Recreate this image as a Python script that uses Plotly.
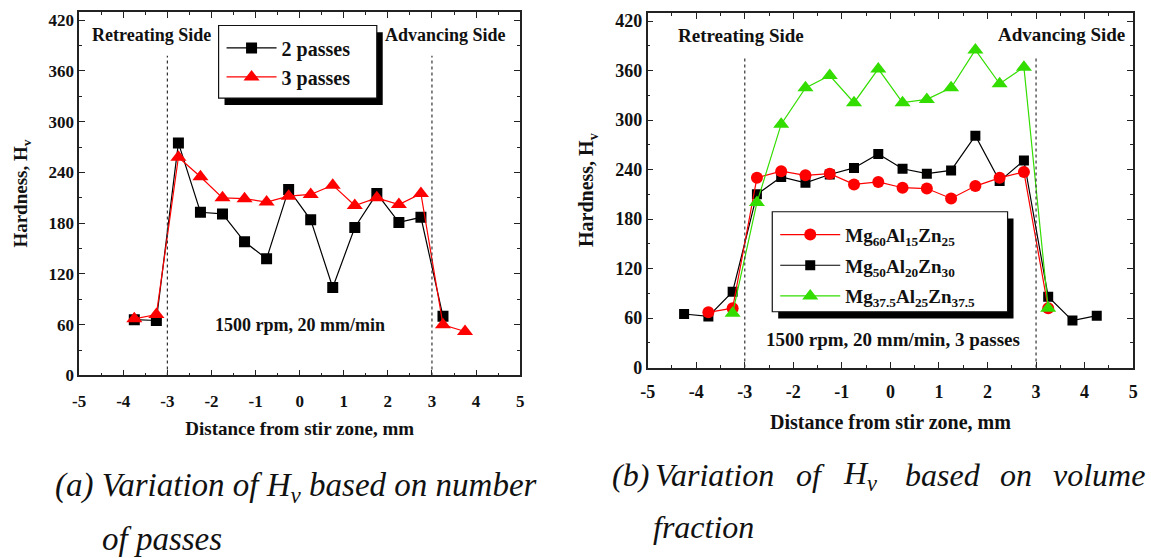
import plotly.graph_objects as go

# ---------------- data ----------------
# (a) number of passes
x_2passes = [-3.75, -3.25, -2.75, -2.25, -1.75, -1.25, -0.75, -0.25, 0.25, 0.75, 1.25, 1.75, 2.25, 2.75, 3.25]
hv_2passes = [66, 65, 275, 193, 191, 158, 138, 220, 184, 104, 175, 215, 181, 187, 70]
x_3passes = [-3.75, -3.25, -2.75, -2.25, -1.75, -1.25, -0.75, -0.25, 0.25, 0.75, 1.25, 1.75, 2.25, 2.75, 3.25, 3.75]
hv_3passes = [67, 72, 258, 235, 210, 209, 205, 212, 214, 225, 201, 210, 202, 215, 60, 52]

# (b) volume fraction
x_mg50 = [-4.25, -3.75, -3.25, -2.75, -2.25, -1.75, -1.25, -0.75, -0.25, 0.25, 0.75, 1.25, 1.75, 2.25, 2.75, 3.25, 3.75, 4.25]
hv_mg50 = [65, 62, 92, 210, 231, 224, 234, 242, 259, 241, 235, 239, 281, 226, 251, 86, 57, 63]
x_mg60 = [-3.75, -3.25, -2.75, -2.25, -1.75, -1.25, -0.75, -0.25, 0.25, 0.75, 1.25, 1.75, 2.25, 2.75, 3.25]
hv_mg60 = [67, 72, 230, 238, 233, 235, 222, 225, 218, 217, 205, 220, 230, 237, 72]
x_mg375 = [-3.25, -2.75, -2.25, -1.75, -1.25, -0.75, -0.25, 0.25, 0.75, 1.25, 1.75, 2.25, 2.75, 3.25]
hv_mg375 = [66, 200, 295, 339, 354, 321, 362, 321, 325, 339, 385, 344, 364, 72]

x_tick_vals = [-5, -4, -3, -2, -1, 0, 1, 2, 3, 4, 5]
x_tick_text = ["-5", "-4", "-3", "-2", "-1", "0", "1", "2", "3", "4", "5"]
y_tick_vals = [0, 60, 120, 180, 240, 300, 360, 420]
y_tick_text = ["0", "60", "120", "180", "240", "300", "360", "420"]
sz_boundaries = [-3, 3]

names_a = ["2 passes", "3 passes"]
names_b = ["Mg<sub>60</sub>Al<sub>15</sub>Zn<sub>25</sub>",
           "Mg<sub>50</sub>Al<sub>20</sub>Zn<sub>30</sub>",
           "Mg<sub>37.5</sub>Al<sub>25</sub>Zn<sub>37.5</sub>"]

W, H = 1151, 558
SERIF = "Liberation Serif"
RED, BLACK, GREEN = "#ff0000", "#000000", "#33dd00"

def px(v):
    return v / W

def py(v):
    return 1 - v / H

fig = go.Figure()

# ---- (a) ----
fig.add_trace(go.Scatter(x=x_2passes, y=hv_2passes, name=names_a[0], mode="lines+markers",
                         line=dict(color=BLACK, width=1.2),
                         marker=dict(symbol="square", size=11, color=BLACK),
                         xaxis="x", yaxis="y", legend="legend"))
fig.add_trace(go.Scatter(x=x_3passes, y=hv_3passes, name=names_a[1], mode="lines+markers",
                         line=dict(color=RED, width=1.2),
                         marker=dict(symbol="triangle-up", size=14, color=RED),
                         xaxis="x", yaxis="y", legend="legend"))

# ---- (b) ----
fig.add_trace(go.Scatter(x=x_mg50, y=hv_mg50, name=names_b[1], mode="lines+markers",
                         line=dict(color=BLACK, width=1.2),
                         marker=dict(symbol="square", size=10, color=BLACK),
                         xaxis="x2", yaxis="y2", legend="legend2", legendrank=2, legendgroup="b2"))
fig.add_trace(go.Scatter(x=x_mg60, y=hv_mg60, name=names_b[0], mode="lines+markers",
                         line=dict(color=RED, width=1.2),
                         marker=dict(symbol="circle", size=12, color=RED),
                         xaxis="x2", yaxis="y2", legend="legend2", legendrank=1, legendgroup="b1"))
fig.add_trace(go.Scatter(x=x_mg375, y=hv_mg375, name=names_b[2], mode="lines+markers",
                         line=dict(color=GREEN, width=1.2),
                         marker=dict(symbol="triangle-up", size=14, color=GREEN),
                         xaxis="x2", yaxis="y2", legend="legend2", legendrank=3, legendgroup="b3"))

axis_common = dict(showline=True, linewidth=1.5, linecolor="#222", mirror="ticks",
                   ticks="inside", tickcolor="#222", showgrid=False, zeroline=False,
                   tickfont=dict(family=SERIF, size=17, color="#111", weight="bold"))

xa = dict(axis_common, range=[-5, 5], tickmode="array", tickvals=x_tick_vals, ticktext=x_tick_text,
          ticklen=6, minor=dict(ticks="inside", ticklen=3, dtick=0.5, tick0=0, tickcolor="#222"))
ya = dict(axis_common, range=[0, 430], tickmode="array", tickvals=y_tick_vals, ticktext=y_tick_text,
          ticklen=6, minor=dict(ticks="inside", ticklen=3, dtick=30, tick0=0, tickcolor="#222"))

title_font = dict(family=SERIF, size=19, color="#111", weight="bold")

fig.update_layout(
    width=W, height=H, margin=dict(l=0, r=0, t=0, b=0),
    paper_bgcolor="white", plot_bgcolor="white",
    showlegend=True,
    xaxis=dict(xa, domain=[px(72), px(518)], anchor="y", ticklabelstandoff=9,
               title=dict(text="Distance from stir zone, mm", font=title_font, standoff=12)),
    yaxis=dict(ya, domain=[py(382), py(11)], anchor="x",
               title=dict(text="Hardness, H<sub>v</sub>", font=title_font, standoff=16)),
    xaxis2=dict(xa, domain=[px(647), px(1138)], anchor="y2", ticklabelstandoff=7,
                tickfont=dict(family=SERIF, size=18, color="#111", weight="bold"),
                title=dict(text="Distance from stir zone, mm", font=dict(title_font, size=20), standoff=14)),
    yaxis2=dict(ya, domain=[py(374), py(12)], anchor="x2",
                tickfont=dict(family=SERIF, size=18, color="#111", weight="bold"),
                title=dict(text="Hardness, H<sub>v</sub>", font=dict(title_font, size=20), standoff=16)),
    legend=dict(x=px(216), y=py(28), xanchor="left", yanchor="top",
                bgcolor="rgba(0,0,0,0)", borderwidth=0, itemwidth=50,
                font=dict(family=SERIF, size=20, color="#111", weight="bold"),
                tracegroupgap=0),
    legend2=dict(x=px(776), y=py(219), xanchor="left", yanchor="top",
                 bgcolor="rgba(0,0,0,0)", borderwidth=0, itemwidth=60,
                 font=dict(family=SERIF, size=19, color="#111", weight="bold"),
                 traceorder="grouped", tracegroupgap=3),
)

shapes = []
# dotted stir-zone boundaries
for xb in sz_boundaries:
    shapes.append(dict(type="line", xref="x", yref="y", x0=xb, x1=xb, y0=0, y1=378,
                       line=dict(color="#333", width=1.2, dash="dot")))
    shapes.append(dict(type="line", xref="x2", yref="y2", x0=xb, x1=xb, y0=0, y1=375,
                       line=dict(color="#333", width=1.2, dash="dot")))
# legend boxes with drop shadow
for (l, t, r, b) in [(213, 25, 373, 99), (773, 215, 1011, 317)]:
    shapes.append(dict(type="rect", xref="paper", yref="paper", x0=px(l + 6), x1=px(r + 6),
                       y0=py(b + 7), y1=py(t + 7), fillcolor="black", line=dict(width=0), layer="above"))
    shapes.append(dict(type="rect", xref="paper", yref="paper", x0=px(l), x1=px(r),
                       y0=py(b), y1=py(t), fillcolor="white", line=dict(color="#111", width=1.2),
                       layer="above"))
fig.update_layout(shapes=shapes)

lab_font = dict(family=SERIF, size=18, color="#111", weight="bold")
lab_font2 = dict(family=SERIF, size=19, color="#111", weight="bold")
ann = [
    dict(text="Retreating Side", xref="x", yref="y", x=-4.75, y=402, xanchor="left", yanchor="middle",
         showarrow=False, font=lab_font),
    dict(text="Advancing Side", xref="x", yref="y", x=4.73, y=402, xanchor="right", yanchor="middle",
         showarrow=False, font=lab_font),
    dict(text="1500 rpm, 20 mm/min", xref="x", yref="y", x=0.0, y=60, xanchor="center", yanchor="middle",
         showarrow=False, font=lab_font),
    dict(text="Retreating Side", xref="x2", yref="y2", x=-4.41, y=402, xanchor="left", yanchor="middle",
         showarrow=False, font=lab_font2),
    dict(text="Advancing Side", xref="x2", yref="y2", x=4.88, y=404, xanchor="right", yanchor="middle",
         showarrow=False, font=lab_font2),
    dict(text="1500 rpm, 20 mm/min, 3 passes", xref="x2", yref="y2", x=0.06, y=34, xanchor="center",
         yanchor="middle", showarrow=False, font=lab_font2),
]

cap_font = dict(family=SERIF, size=32, color="#111", style="italic")
cap_font_a = dict(cap_font, size=33)
# caption (a)
ann.append(dict(text="(a) Variation of H<sub>v</sub> based on number", xref="paper", yref="paper",
                x=px(46), y=py(496), xanchor="left", yanchor="middle", align="left",
                showarrow=False, font=cap_font_a))
ann.append(dict(text="of passes", xref="paper", yref="paper", x=px(93), y=py(549), xanchor="left",
                yanchor="middle", align="left", showarrow=False, font=cap_font_a))
# caption (b), justified line
cap_b_words = ["(b)", "Variation", "of", "H<sub>v</sub>", "based", "on", "volume"]
cap_b_left = [609, 652, 795, 843, 905, 1001, 1055]
for wtxt, xl in zip(cap_b_words, cap_b_left):
    ann.append(dict(text=wtxt, xref="paper", yref="paper", x=px(xl), y=py(484), xanchor="left",
                    yanchor="middle", align="left", showarrow=False, font=cap_font))
ann.append(dict(text="fraction", xref="paper", yref="paper", x=px(650), y=py(537), xanchor="left",
                yanchor="middle", align="left", showarrow=False, font=cap_font))
fig.update_layout(annotations=ann)

fig.write_html("out.html", config={"displayModeBar": False},
               post_script="document.body.style.margin='0px';")
